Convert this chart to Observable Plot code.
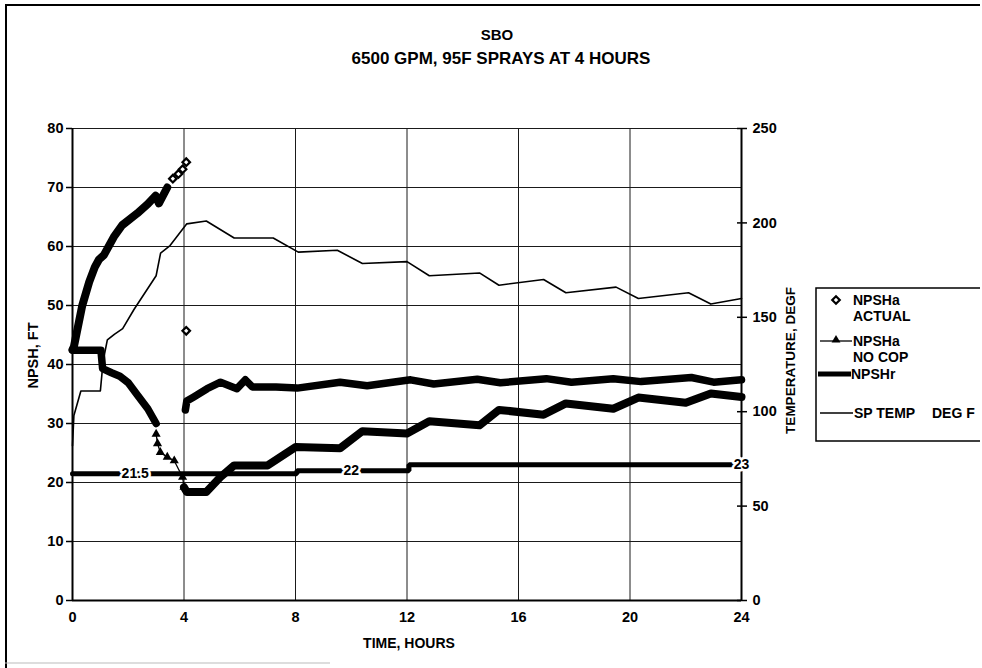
<!DOCTYPE html>
<html>
<head>
<meta charset="utf-8">
<script src="https://cdn.jsdelivr.net/npm/d3@7"></script>
<script src="https://cdn.jsdelivr.net/npm/@observablehq/plot@0.6"></script>
<style>
  html, body { margin: 0; padding: 0; background: white; overflow: hidden; }
  #chart { position: relative; width: 982px; height: 668px; overflow: hidden; }
</style>
</head>
<body>
<div id="chart"></div>
<script>
// ---------- data ----------
const hourTicks = [0, 4, 8, 12, 16, 20, 24];
const npshTicks = [0, 10, 20, 30, 40, 50, 60, 70, 80];
const tempTicks = [0, 50, 100, 150, 200, 250];

// NPSHa ACTUAL (diamond markers; dense parts look like a thick line)
const actualDense1 = [[0,42.5],[0.05,43],[0.35,50],[0.6,54],[0.8,56.5],[0.95,57.8],[1.12,58.5],[1.48,61.6],[1.78,63.6],[2.32,65.6],[2.7,67.2],[2.98,68.6],[3.1,67.3],[3.4,70.0]];
const actualSparse = [[3.6,71.5],[3.8,72.3],[3.95,73.1],[4.08,74.3],[4.08,45.7]];
const actualDense2 = [[4.05,32.3],[4.1,33.8],[4.35,34.5],[4.83,35.9],[5.31,37.0],[5.9,35.9],[6.2,37.4],[6.45,36.2],[7.3,36.2],[8.06,36.0],[9.6,37.0],[10.57,36.4],[12.13,37.4],[12.96,36.7],[14.52,37.5],[15.35,36.9],[17.0,37.6],[17.9,37.0],[19.4,37.6],[20.4,37.1],[22.2,37.8],[23.0,37.0],[24,37.4]];

// NPSHa NO COP (triangle markers on a line)
const noCopDense1 = [[0,42.4],[1.02,42.4],[1.08,39.3],[1.4,38.6],[1.7,38.0],[2.0,36.9],[2.3,35.0],[2.7,32.5],[3.0,30.0]];
const noCopSparse = [[3.0,28.2],[3.05,26.6],[3.15,25.1],[3.4,24.3],[3.65,23.7],[3.95,20.9],[4.0,19.2]];
const noCopDense2 = [[4.0,19.2],[4.1,18.4],[4.8,18.4],[5.3,20.9],[5.8,22.9],[7.0,22.9],[8.0,26.0],[9.6,25.8],[10.4,28.7],[12.0,28.3],[12.8,30.4],[14.6,29.7],[15.3,32.3],[16.9,31.5],[17.7,33.4],[19.4,32.5],[20.3,34.4],[22.0,33.5],[22.9,35.1],[24,34.5]];

// NPSHr (required), with its value labels
const npshr = [[0,21.5],[8.05,21.5],[8.05,22],[12.07,22],[12.07,23],[24,23]];
const npshrLabels = [[2.25,21.5,"21.5"],[10.0,22,"22"],[24,23,"23"]];

// SP TEMP, DEG F (right axis)
const spTemp = [[0,82],[0.05,98],[0.3,111],[1.0,111],[1.1,127],[1.25,138],[1.5,141],[1.8,144],[2.2,154],[3.0,172],[3.16,184],[3.5,188],[4.1,199.5],[4.8,201],[5.8,192],[7.2,192],[8.1,184.5],[9.5,185.5],[10.4,178.5],[12.0,179.5],[12.8,172],[14.6,173.5],[15.3,167],[16.9,170],[17.7,163],[19.5,166],[20.3,160],[22.1,163],[22.9,157],[24,160]];

const titleLines = ["SBO", "6500 GPM, 95F SPRAYS AT 4 HOURS"];

// ---------- chart ----------
const k = 80 / 250; // temperature -> NPSH scale factor (shared plot frame)
const tx = d => d[0], ty = d => d[1], tt = d => d[1] * k;
const FONT = "'Liberation Sans', Arial, Helvetica, sans-serif";

const chart = Plot.plot({
  width: 982, height: 668,
  marginLeft: 72, marginRight: 241, marginTop: 128, marginBottom: 68,
  x: {domain: [0, 24]},
  y: {domain: [0, 80]},
  style: {fontFamily: FONT, fontWeight: "bold", fontSize: "14px", background: "white", color: "black"},
  marks: [
    Plot.gridY(npshTicks.filter(d => d > 0), {stroke: "#1a1a1a", strokeOpacity: 1, strokeWidth: 1}),
    Plot.gridX(hourTicks.filter(d => d > 0 && d < 24), {stroke: "#1a1a1a", strokeOpacity: 1, strokeWidth: 1}),
    Plot.axisY({ticks: npshTicks, tickSize: 6, tickPadding: 3, label: null, strokeWidth: 1.5, fontSize: 14.5}),
    Plot.axisX({ticks: hourTicks, tickSize: 0, tickPadding: 11, label: null, fontSize: 14.5}),
    Plot.axisY({anchor: "right", ticks: tempTicks.map(d => d * k), tickFormat: d => String(Math.round(d / k)), tickSize: 5, tickPadding: 6, label: null, strokeWidth: 1.5, fontSize: 14.5}),
    Plot.axisY({anchor: "right", ticks: tempTicks.map(d => d * k), tickFormat: () => "", tickSize: 5, dx: -5, label: null, strokeWidth: 1.5}),
    Plot.ruleX([0], {stroke: "black", strokeWidth: 2}),
    Plot.ruleY([0], {stroke: "black", strokeWidth: 2}),
    Plot.ruleX([24], {stroke: "black", strokeWidth: 2}),

    // SP TEMP thin line
    Plot.line(spTemp, {x: tx, y: tt, stroke: "black", strokeWidth: 1.6}),

    // NPSHr thick step line
    Plot.line(npshr, {x: tx, y: ty, stroke: "black", strokeWidth: 5, strokeLinejoin: "miter"}),

    // NO COP
    Plot.line(noCopDense1, {x: tx, y: ty, stroke: "black", strokeWidth: 7.5, strokeLinejoin: "round", strokeLinecap: "round"}),
    Plot.line(noCopSparse, {x: tx, y: ty, stroke: "black", strokeWidth: 1.3}),
    Plot.dot(noCopSparse, {x: tx, y: ty, symbol: "triangle", fill: "black", r: 3.4}),
    Plot.line(noCopDense2, {x: tx, y: ty, stroke: "black", strokeWidth: 8, strokeLinejoin: "round", strokeLinecap: "round"}),

    // NPSHa ACTUAL
    Plot.line(actualDense1, {x: tx, y: ty, stroke: "black", strokeWidth: 8, strokeLinejoin: "round", strokeLinecap: "round"}),
    Plot.line(actualDense2, {x: tx, y: ty, stroke: "black", strokeWidth: 7.5, strokeLinejoin: "round", strokeLinecap: "round"}),
    Plot.dot(actualSparse, {x: tx, y: ty, symbol: "diamond2", fill: "white", stroke: "black", strokeWidth: 2.2, r: 3.4}),

    // NPSHr value labels (white halo cuts the line)
    Plot.text(npshrLabels, {x: tx, y: ty, text: d => d[2], fill: "black", stroke: "white", strokeWidth: 5, fontSize: 14, fontWeight: "bold", textAnchor: "middle"}),

    // titles
    Plot.text([titleLines[0]], {text: d => d, frameAnchor: "top", dx: 90, dy: -93, fontSize: 15, fontWeight: "bold", textAnchor: "middle", lineAnchor: "middle"}),
    Plot.text([titleLines[1]], {text: d => d, frameAnchor: "top", dx: 94, dy: -70, fontSize: 17, fontWeight: "bold", textAnchor: "middle", lineAnchor: "middle"}),
    Plot.text(["NPSH, FT"], {text: d => d, frameAnchor: "left", dx: -39, dy: -9, rotate: -90, fontSize: 14.5, fontWeight: "bold", textAnchor: "middle", lineAnchor: "middle"}),
    Plot.text(["TEMPERATURE, DEGF"], {text: d => d, frameAnchor: "right", dx: 49, dy: -4, rotate: -90, fontSize: 13.5, fontWeight: "bold", textAnchor: "middle", lineAnchor: "middle"}),
    Plot.text(["TIME, HOURS"], {text: d => d, frameAnchor: "bottom", dy: 43, dx: 2, fontSize: 14, fontWeight: "bold", textAnchor: "middle", lineAnchor: "middle"})
  ]
});

document.getElementById("chart").appendChild(chart);

// ---------- outer frame and legend ----------
const svg = d3.select(chart);
svg.append("line").attr("x1", 6).attr("y1", 5).attr("x2", 6).attr("y2", 668).attr("stroke", "black").attr("stroke-width", 2);
svg.append("line").attr("x1", 5).attr("y1", 5).attr("x2", 980).attr("y2", 5).attr("stroke", "black").attr("stroke-width", 2);
svg.append("line").attr("x1", 5).attr("y1", 663).attr("x2", 330).attr("y2", 663).attr("stroke", "#bbb").attr("stroke-width", 1);

const lg = svg.append("g").attr("font-family", FONT).attr("font-weight", "bold").attr("font-size", 14).attr("text-anchor", "start");
lg.append("path").attr("d", "M980,288H816V441H980").attr("fill", "none").attr("stroke", "black").attr("stroke-width", 1.5);
// diamond
lg.append("path").attr("d", d3.symbol(d3.symbolDiamond2, 36)()).attr("transform", "translate(836,300)").attr("fill", "white").attr("stroke", "black").attr("stroke-width", 2.2);
// line with triangle
lg.append("line").attr("x1", 820).attr("x2", 852).attr("y1", 341).attr("y2", 341).attr("stroke", "black").attr("stroke-width", 1.3);
lg.append("path").attr("d", d3.symbol(d3.symbolTriangle, 34)()).attr("transform", "translate(836,340)").attr("fill", "black");
// thick
lg.append("line").attr("x1", 818).attr("x2", 851).attr("y1", 374).attr("y2", 374).attr("stroke", "black").attr("stroke-width", 5);
// thin
lg.append("line").attr("x1", 820).attr("x2", 853).attr("y1", 413).attr("y2", 413).attr("stroke", "black").attr("stroke-width", 1.6);

const legendText = [
  [853, 300, "NPSHa"], [853, 316.5, "ACTUAL"],
  [853, 341, "NPSHa"], [853, 357.5, "NO COP"],
  [851, 374, "NPSHr"],
  [854, 413, "SP TEMP"], [932, 413, "DEG F"]
];
lg.selectAll("text.lt").data(legendText).join("text").attr("class", "lt")
  .attr("x", d => d[0]).attr("y", d => d[1]).attr("dy", "0.35em").attr("text-anchor", "start").text(d => d[2]);
</script>
</body>
</html>
